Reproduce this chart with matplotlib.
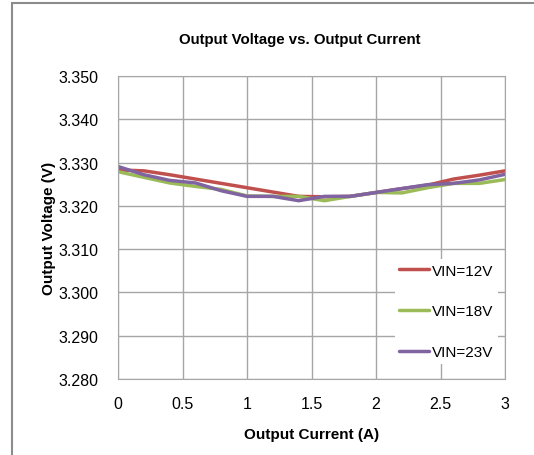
import matplotlib.pyplot as plt
from matplotlib.patches import Rectangle
from matplotlib import font_manager

corriente = [0, 0.2, 0.4, 0.6, 0.8, 1.0, 1.2, 1.4, 1.6, 1.8, 2.0, 2.2, 2.4, 2.6, 2.8, 3.0]
vin12 = [3.3283, 3.3281, 3.3272, 3.3262, 3.3252, 3.3242, 3.3232, 3.3222, 3.3221, 3.3222, 3.3231, 3.3240, 3.3248, 3.3262, 3.3271, 3.3281]
vin18 = [3.3279, 3.3266, 3.3253, 3.3245, 3.3238, 3.3223, 3.3222, 3.3222, 3.3212, 3.3222, 3.3231, 3.3230, 3.3242, 3.3252, 3.3252, 3.3261]
vin23 = [3.3291, 3.3272, 3.3259, 3.3253, 3.3235, 3.3222, 3.3222, 3.3212, 3.3222, 3.3222, 3.3231, 3.3240, 3.3249, 3.3252, 3.3260, 3.3273]
etiquetas = ['VIN=12V', 'VIN=18V', 'VIN=23V']
colores = ['#c0504d', '#9bbb59', '#8064a2']

nombres = [f.name for f in font_manager.fontManager.ttflist]
fuente = 'Liberation Sans Narrow' if 'Liberation Sans Narrow' in nombres else 'Liberation Sans'
plt.rcParams['font.family'] = [fuente, 'DejaVu Sans']

fig = plt.figure(figsize=(5.34, 4.56), dpi=100)
ax = fig.add_axes([0.221, 0.1667, 0.725, 0.6643])

# marco gris del grafico completo
fig.patches.append(Rectangle((12 / 534, -0.1), 1.2, 1 - 4 / 456 + 0.1, transform=fig.transFigure,
                             fill=False, edgecolor='#8c8c8c', linewidth=1.5))

for y, lab, c in zip([vin12, vin18, vin23], etiquetas, colores):
    ax.plot(corriente, y, color=c, linewidth=2.5, label=lab, solid_capstyle='round')

ax.set_xlim(0, 3)
ax.set_ylim(3.280, 3.350)
ax.set_xticks([0, 0.5, 1, 1.5, 2, 2.5, 3])
ax.set_xticklabels(['0', '0.5', '1', '1.5', '2', '2.5', '3'])
ax.set_yticks([3.28 + 0.01 * i for i in range(8)])
ax.set_yticklabels(['%.3f' % (3.28 + 0.01 * i) for i in range(8)])
ax.tick_params(axis='x', length=0, labelsize=11.5, pad=12)
ax.tick_params(axis='y', length=0, labelsize=11.5, pad=14)
ax.grid(True, color='#a6a6a6', linewidth=1)
ax.set_axisbelow(True)
for s in ax.spines.values():
    s.set_color('#a6a6a6')

ax.set_xlabel('Output Current (A)', fontsize=11, fontweight='bold', labelpad=12)
ax.set_ylabel('Output Voltage (V)', fontsize=11, fontweight='bold', labelpad=2)
fig.text(0.561, 0.912, 'Output Voltage vs. Output Current', ha='center', va='center',
         fontsize=10.8, fontweight='bold')

leg = ax.legend(loc='lower right', bbox_to_anchor=(1.0, 0.025), frameon=True, fontsize=11,
                handlelength=1.9, handletextpad=0.2, labelspacing=1.75, borderpad=0.3)
leg.get_frame().set_edgecolor('none')
leg.get_frame().set_facecolor('white')
leg.get_frame().set_alpha(1)
leg.get_frame().set_boxstyle('square', pad=0)

fig.savefig('out.png', dpi=100)
